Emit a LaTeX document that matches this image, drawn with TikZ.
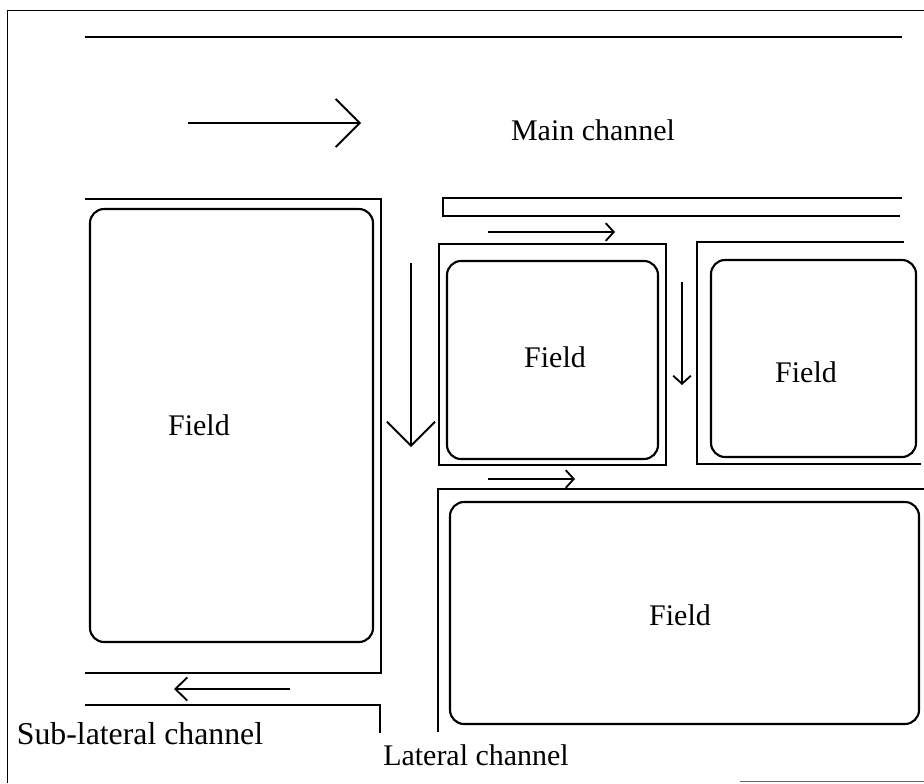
\documentclass[tikz,border=0pt]{standalone}
\usepackage{fontspec}
\setmainfont{Liberation Serif}
\usetikzlibrary{positioning, arrows.meta, fit}

\begin{document}
\begin{tikzpicture}[
        x=0.025cm, y=-0.025cm,
        chan/.style = {line width=1.7pt},
        frame/.style = {line width=0.7pt},
        field/.style = {draw, rounded corners=10pt, line width=1.5pt, inner sep=0pt},
        plot/.style = {draw, line width=1.5pt, inner sep=0pt},
        lbl/.style = {font=\fontsize{21.3}{24}\selectfont, inner sep=0pt},
        bigflow/.style = {-{Straight Barb[length=6mm, width=12mm]}, line width=1.3pt},
        midflow/.style = {-{Straight Barb[length=3mm, width=5.8mm]}, line width=1.3pt},
        smallflow/.style = {-{Straight Barb[length=2mm, width=4.4mm]}, line width=1.3pt},
    ]
        \useasboundingbox (0,0) rectangle (924,783);
        % page frame
        \draw[frame] (7,783) -- (7,10) -- (924,10);
        \draw[frame, black!60] (740,781) -- (924,781);

        % main channel
        \draw[chan] (85,37) -- (902,37);
        \draw[bigflow] (188,123) -- (361,123);
        \node[lbl] (main) at (593,130) {Main channel};

        % west field
        \draw[chan] (85,199) -- (381,199) -- (381,673) -- (85,673);
        \node[field, fit={(90,209) (373,642)}] (west) {};
        \node[lbl] (westtxt) at (199,425) {Field};
        \draw[bigflow] (411,263) -- (411,447);

        % sub-lateral channel
        \draw[chan] (85,705) -- (380,705) -- (380,733);
        \draw[midflow] (290,689) -- (174,689);
        \node[lbl, font=\fontsize{22.6}{25}\selectfont] (sub) at (140,734) {Sub-lateral channel};

        % upper strip
        \draw[chan] (902,198) -- (443,198) -- (443,216) -- (900,216);
        \draw[smallflow] (488,232) -- (615,232);

        % centre field
        \node[plot, fit={(439,244) (666,465)}] (centreplot) {};
        \node[field, fit={(447,261) (658,459)}] (centre) {};
        \node[lbl] (centretxt) at (555,357) {Field};
        \draw[smallflow] (682,282) -- (682,385);

        % east field
        \draw[chan] (904,242) -- (697,242) -- (697,464) -- (921,464);
        \node[field, fit={(711,260) (916,457)}] (east) {};
        \node[lbl] (easttxt) at (806,372) {Field};
        \draw[smallflow] (488,479) -- (575,479);

        % south field and lateral channel
        \draw[chan] (924,489) -- (438,489) -- (438,732);
        \node[field, fit={(450,502) (919,724)}] (south) {};
        \node[lbl] (southtxt) at (680,615) {Field};
        \node[lbl] (lat) at (476,755) {Lateral channel};
    \end{tikzpicture}
\end{document}
